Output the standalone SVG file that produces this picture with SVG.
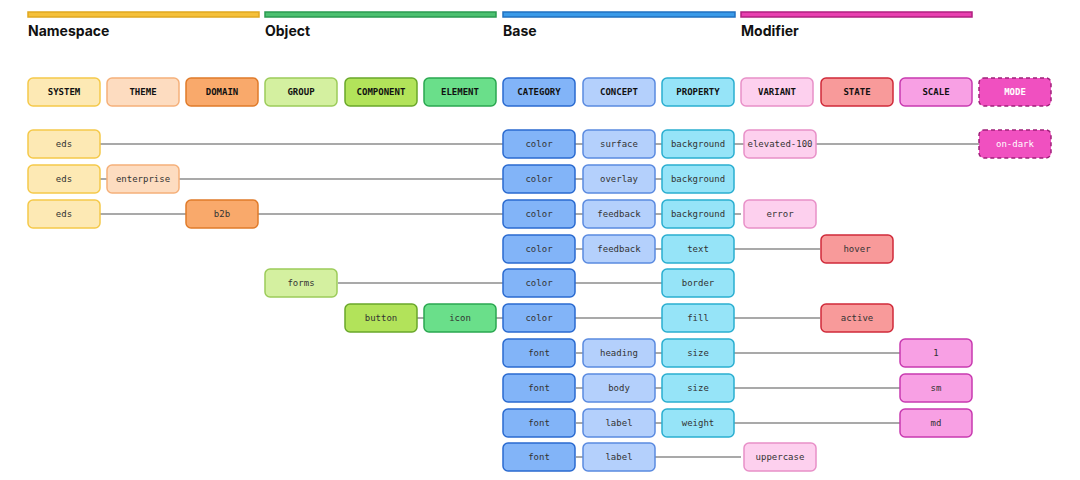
<svg xmlns="http://www.w3.org/2000/svg" width="1080" height="480" viewBox="0 0 1080 480">
<style>
.t{font-family:"DejaVu Sans Mono","Liberation Mono",monospace;font-size:9px;fill:#333;text-anchor:middle;dominant-baseline:central}
.h{font-weight:bold;fill:#111}
.g{font-family:Inter,"Liberation Sans",sans-serif;font-size:14px;font-weight:bold;fill:#111}
rect{stroke-width:1.5}
.c0{fill:#fde9b4;stroke:#f5c94a}.c1{fill:#fddcc0;stroke:#f5b07a}.c2{fill:#f9a96b;stroke:#e07b2a}
.c3{fill:#d4f0a0;stroke:#9ccc5a}.c4{fill:#b2e35a;stroke:#6aa82a}.c5{fill:#6adf8a;stroke:#2aa850}
.c6{fill:#82b4f8;stroke:#2a6ad0}.c7{fill:#b4d0fc;stroke:#5a8ae0}.c8{fill:#96e4f8;stroke:#2aaed0}
.c9{fill:#fdd0ee;stroke:#e890c8}.c10{fill:#f89a9a;stroke:#d02a3a}.c11{fill:#f8a0e4;stroke:#c83ab0}
.c12{fill:#f050c0;stroke:#a0207a;stroke-dasharray:4 3}
.w{fill:#fff}
line{stroke:#555;stroke-width:1.2}
</style>
<g id="groups">
<rect x="28" y="12" width="231" height="5" fill="#f5c03a" stroke="#e0a820" stroke-width="1"/>
<rect x="265" y="12" width="231" height="5" fill="#4cc070" stroke="#2a9a50" stroke-width="1"/>
<rect x="503" y="12" width="232" height="5" fill="#3a9ae8" stroke="#2070c0" stroke-width="1"/>
<rect x="741" y="12" width="231" height="5" fill="#e840b0" stroke="#b02080" stroke-width="1"/>
<text class="g" x="28" y="36">Namespace</text>
<text class="g" x="265" y="36">Object</text>
<text class="g" x="503" y="36">Base</text>
<text class="g" x="741" y="36">Modifier</text>
</g>
<g id="connectors">
<line x1="100" y1="144" x2="979" y2="144"/>
<line x1="100" y1="179" x2="662" y2="179"/>
<line x1="100" y1="214" x2="741" y2="214"/>
<line x1="576" y1="249" x2="820" y2="249"/>
<line x1="338" y1="283" x2="662" y2="283"/>
<line x1="417" y1="318" x2="820" y2="318"/>
<line x1="576" y1="353" x2="900" y2="353"/>
<line x1="576" y1="388" x2="900" y2="388"/>
<line x1="576" y1="423" x2="900" y2="423"/>
<line x1="576" y1="457" x2="741" y2="457"/>
</g>
<g id="headers">
<g id="h-system"><rect class="c0" x="28" y="78" width="72" height="28" rx="5"/><text class="t h" x="64" y="92">SYSTEM</text></g>
<g id="h-theme"><rect class="c1" x="107" y="78" width="72" height="28" rx="5"/><text class="t h" x="143" y="92">THEME</text></g>
<g id="h-domain"><rect class="c2" x="186" y="78" width="72" height="28" rx="5"/><text class="t h" x="222" y="92">DOMAIN</text></g>
<g id="h-group"><rect class="c3" x="265" y="78" width="72" height="28" rx="5"/><text class="t h" x="301" y="92">GROUP</text></g>
<g id="h-component"><rect class="c4" x="345" y="78" width="72" height="28" rx="5"/><text class="t h" x="381" y="92">COMPONENT</text></g>
<g id="h-element"><rect class="c5" x="424" y="78" width="72" height="28" rx="5"/><text class="t h" x="460" y="92">ELEMENT</text></g>
<g id="h-category"><rect class="c6" x="503" y="78" width="72" height="28" rx="5"/><text class="t h" x="539" y="92">CATEGORY</text></g>
<g id="h-concept"><rect class="c7" x="583" y="78" width="72" height="28" rx="5"/><text class="t h" x="619" y="92">CONCEPT</text></g>
<g id="h-property"><rect class="c8" x="662" y="78" width="72" height="28" rx="5"/><text class="t h" x="698" y="92">PROPERTY</text></g>
<g id="h-variant"><rect class="c9" x="741" y="78" width="72" height="28" rx="5"/><text class="t h" x="777" y="92">VARIANT</text></g>
<g id="h-state"><rect class="c10" x="821" y="78" width="72" height="28" rx="5"/><text class="t h" x="857" y="92">STATE</text></g>
<g id="h-scale"><rect class="c11" x="900" y="78" width="72" height="28" rx="5"/><text class="t h" x="936" y="92">SCALE</text></g>
<g id="h-mode"><rect class="c12" x="979" y="78" width="72" height="28" rx="5"/><text class="t h w" x="1015" y="92">MODE</text></g>
</g>
<g id="row1">
<g id="r1-eds"><rect class="c0" x="28" y="130" width="72" height="28" rx="5"/><text class="t" x="64" y="144">eds</text></g>
<g id="r1-color"><rect class="c6" x="503" y="130" width="72" height="28" rx="5"/><text class="t" x="539" y="144">color</text></g>
<g id="r1-surface"><rect class="c7" x="583" y="130" width="72" height="28" rx="5"/><text class="t" x="619" y="144">surface</text></g>
<g id="r1-background"><rect class="c8" x="662" y="130" width="72" height="28" rx="5"/><text class="t" x="698" y="144">background</text></g>
<g id="r1-elevated"><rect class="c9" x="744" y="130" width="72" height="28" rx="5"/><text class="t" x="780" y="144">elevated-100</text></g>
<g id="r1-ondark"><rect class="c12" x="979" y="130" width="72" height="28" rx="5"/><text class="t w" x="1015" y="144">on-dark</text></g>
</g>
<g id="row2">
<g id="r2-eds"><rect class="c0" x="28" y="165" width="72" height="28" rx="5"/><text class="t" x="64" y="179">eds</text></g>
<g id="r2-enterprise"><rect class="c1" x="107" y="165" width="72" height="28" rx="5"/><text class="t" x="143" y="179">enterprise</text></g>
<g id="r2-color"><rect class="c6" x="503" y="165" width="72" height="28" rx="5"/><text class="t" x="539" y="179">color</text></g>
<g id="r2-overlay"><rect class="c7" x="583" y="165" width="72" height="28" rx="5"/><text class="t" x="619" y="179">overlay</text></g>
<g id="r2-background"><rect class="c8" x="662" y="165" width="72" height="28" rx="5"/><text class="t" x="698" y="179">background</text></g>
</g>
<g id="row3">
<g id="r3-eds"><rect class="c0" x="28" y="200" width="72" height="28" rx="5"/><text class="t" x="64" y="214">eds</text></g>
<g id="r3-b2b"><rect class="c2" x="186" y="200" width="72" height="28" rx="5"/><text class="t" x="222" y="214">b2b</text></g>
<g id="r3-color"><rect class="c6" x="503" y="200" width="72" height="28" rx="5"/><text class="t" x="539" y="214">color</text></g>
<g id="r3-feedback"><rect class="c7" x="583" y="200" width="72" height="28" rx="5"/><text class="t" x="619" y="214">feedback</text></g>
<g id="r3-background"><rect class="c8" x="662" y="200" width="72" height="28" rx="5"/><text class="t" x="698" y="214">background</text></g>
<g id="r3-error"><rect class="c9" x="744" y="200" width="72" height="28" rx="5"/><text class="t" x="780" y="214">error</text></g>
</g>
<g id="row4">
<g id="r4-color"><rect class="c6" x="503" y="235" width="72" height="28" rx="5"/><text class="t" x="539" y="249">color</text></g>
<g id="r4-feedback"><rect class="c7" x="583" y="235" width="72" height="28" rx="5"/><text class="t" x="619" y="249">feedback</text></g>
<g id="r4-text"><rect class="c8" x="662" y="235" width="72" height="28" rx="5"/><text class="t" x="698" y="249">text</text></g>
<g id="r4-hover"><rect class="c10" x="821" y="235" width="72" height="28" rx="5"/><text class="t" x="857" y="249">hover</text></g>
</g>
<g id="row5">
<g id="r5-forms"><rect class="c3" x="265" y="269" width="72" height="28" rx="5"/><text class="t" x="301" y="283">forms</text></g>
<g id="r5-color"><rect class="c6" x="503" y="269" width="72" height="28" rx="5"/><text class="t" x="539" y="283">color</text></g>
<g id="r5-border"><rect class="c8" x="662" y="269" width="72" height="28" rx="5"/><text class="t" x="698" y="283">border</text></g>
</g>
<g id="row6">
<g id="r6-button"><rect class="c4" x="345" y="304" width="72" height="28" rx="5"/><text class="t" x="381" y="318">button</text></g>
<g id="r6-icon"><rect class="c5" x="424" y="304" width="72" height="28" rx="5"/><text class="t" x="460" y="318">icon</text></g>
<g id="r6-color"><rect class="c6" x="503" y="304" width="72" height="28" rx="5"/><text class="t" x="539" y="318">color</text></g>
<g id="r6-fill"><rect class="c8" x="662" y="304" width="72" height="28" rx="5"/><text class="t" x="698" y="318">fill</text></g>
<g id="r6-active"><rect class="c10" x="821" y="304" width="72" height="28" rx="5"/><text class="t" x="857" y="318">active</text></g>
</g>
<g id="row7">
<g id="r7-font"><rect class="c6" x="503" y="339" width="72" height="28" rx="5"/><text class="t" x="539" y="353">font</text></g>
<g id="r7-heading"><rect class="c7" x="583" y="339" width="72" height="28" rx="5"/><text class="t" x="619" y="353">heading</text></g>
<g id="r7-size"><rect class="c8" x="662" y="339" width="72" height="28" rx="5"/><text class="t" x="698" y="353">size</text></g>
<g id="r7-1"><rect class="c11" x="900" y="339" width="72" height="28" rx="5"/><text class="t" x="936" y="353">1</text></g>
</g>
<g id="row8">
<g id="r8-font"><rect class="c6" x="503" y="374" width="72" height="28" rx="5"/><text class="t" x="539" y="388">font</text></g>
<g id="r8-body"><rect class="c7" x="583" y="374" width="72" height="28" rx="5"/><text class="t" x="619" y="388">body</text></g>
<g id="r8-size"><rect class="c8" x="662" y="374" width="72" height="28" rx="5"/><text class="t" x="698" y="388">size</text></g>
<g id="r8-sm"><rect class="c11" x="900" y="374" width="72" height="28" rx="5"/><text class="t" x="936" y="388">sm</text></g>
</g>
<g id="row9">
<g id="r9-font"><rect class="c6" x="503" y="409" width="72" height="28" rx="5"/><text class="t" x="539" y="423">font</text></g>
<g id="r9-label"><rect class="c7" x="583" y="409" width="72" height="28" rx="5"/><text class="t" x="619" y="423">label</text></g>
<g id="r9-weight"><rect class="c8" x="662" y="409" width="72" height="28" rx="5"/><text class="t" x="698" y="423">weight</text></g>
<g id="r9-md"><rect class="c11" x="900" y="409" width="72" height="28" rx="5"/><text class="t" x="936" y="423">md</text></g>
</g>
<g id="row10">
<g id="r10-font"><rect class="c6" x="503" y="443" width="72" height="28" rx="5"/><text class="t" x="539" y="457">font</text></g>
<g id="r10-label"><rect class="c7" x="583" y="443" width="72" height="28" rx="5"/><text class="t" x="619" y="457">label</text></g>
<g id="r10-uppercase"><rect class="c9" x="744" y="443" width="72" height="28" rx="5"/><text class="t" x="780" y="457">uppercase</text></g>
</g>
</svg>
